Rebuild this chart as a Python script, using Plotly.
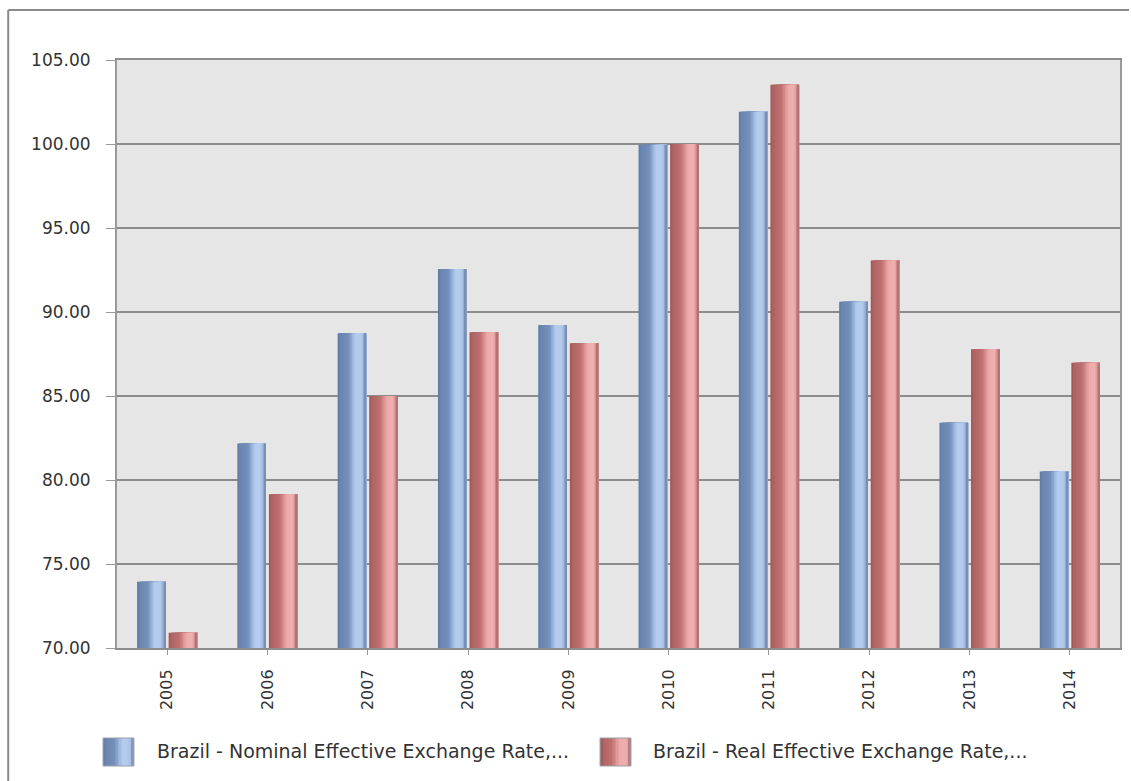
import plotly.graph_objects as go

# ---------------- data ----------------
years = [2005, 2006, 2007, 2008, 2009, 2010, 2011, 2012, 2013, 2014]
nominal = [73.95, 82.18, 88.73, 92.56, 89.23, 99.95, 101.92, 90.61, 83.41, 80.50]
real = [70.91, 79.15, 85.00, 88.79, 88.14, 100.00, 103.53, 93.06, 87.78, 86.98]
series_names = [
    "Brazil - Nominal Effective Exchange Rate,...",
    "Brazil - Real Effective Exchange Rate,...",
]
y_ticks = [70, 75, 80, 85, 90, 95, 100, 105]

# ---------------- layout geometry (pixels) ----------------
W, H = 1131, 781
PL, PR, PT, PB = 117, 1122, 60, 648  # plot area edges


def px_x(px):
    return (px - PL) / (PR - PL)


def px_y(py):
    return (PB - py) / (PB - PT)


def hex2rgb(h):
    h = h.lstrip("#")
    return tuple(int(h[i:i + 2], 16) for i in (0, 2, 4))


def interp(stops, t):
    for (t0, c0), (t1, c1) in zip(stops, stops[1:]):
        if t0 <= t <= t1:
            a = (t - t0) / (t1 - t0) if t1 > t0 else 0
            r0, g0, b0 = hex2rgb(c0)
            r1, g1, b1 = hex2rgb(c1)
            return "rgb(%d,%d,%d)" % (round(r0 + (r1 - r0) * a), round(g0 + (g1 - g0) * a), round(b0 + (b1 - b0) * a))
    return stops[-1][1]


blue_stops = [(0.0, "#5d77a2"), (0.07, "#6a84af"), (0.38, "#7590ba"), (0.52, "#9bb5de"),
              (0.62, "#b5ccee"), (0.84, "#b2caec"), (0.92, "#8fa4c9"), (1.0, "#6f84aa")]
red_stops = [(0.0, "#9a5252"), (0.07, "#ad6262"), (0.38, "#c07070"), (0.52, "#dc9292"),
             (0.62, "#eda9a9"), (0.84, "#f1b1b1"), (0.92, "#c98585"), (1.0, "#a46a6a")]

BAR_W = 0.285
offsets = [-0.3, 0.015]
N = 18

fig = go.Figure()
for name, vals, stops, off in zip(series_names, [nominal, real], [blue_stops, red_stops], offsets):
    for k in range(N):
        f = k / N
        fig.add_trace(go.Bar(
            x=years, y=vals, name=name,
            offset=off + f * BAR_W, width=BAR_W * (1 - f),
            marker=dict(color=interp(stops, (k + 0.5) / N), line=dict(width=0)),
            opacity=1, showlegend=False,
            hoverinfo="x+y+name" if k == N // 2 else "skip",
        ))

shapes = []
# outer border (top and left)
shapes.append(dict(type="line", xref="paper", yref="paper", x0=px_x(8), x1=px_x(W), y0=px_y(10), y1=px_y(10),
                   line=dict(color="#8a8a8a", width=2)))
shapes.append(dict(type="line", xref="paper", yref="paper", x0=px_x(8), x1=px_x(8), y0=px_y(10), y1=px_y(H + 2),
                   line=dict(color="#8a8a8a", width=2)))

# custom legend
legend_items = [(103, 155, blue_stops), (601, 652, red_stops)]
annotations = []
for (sx, tx, stops), name in zip(legend_items, series_names):
    sw, sy0, sy1 = 31, 738, 766
    M = 10
    for k in range(M):
        f = k / M
        shapes.append(dict(type="rect", xref="paper", yref="paper",
                           x0=px_x(sx + f * sw), x1=px_x(sx + sw), y0=px_y(sy1), y1=px_y(sy0),
                           fillcolor=interp(stops, (k + 0.5) / M), line=dict(width=0)))
    shapes.append(dict(type="rect", xref="paper", yref="paper",
                       x0=px_x(sx), x1=px_x(sx + sw), y0=px_y(sy1), y1=px_y(sy0),
                       fillcolor="rgba(0,0,0,0)", line=dict(color="#9aa0aa", width=1)))
    annotations.append(dict(x=px_x(tx), y=px_y(751), xref="paper", yref="paper", text=name,
                            showarrow=False, xanchor="left", yanchor="middle",
                            font=dict(family="DejaVu Sans", size=19, color="#333333")))

fig.update_layout(
    width=W, height=H,
    margin=dict(l=PL, r=W - PR, t=PT, b=H - PB, pad=0),
    paper_bgcolor="white",
    plot_bgcolor="#e6e6e6",
    barmode="overlay",
    showlegend=False,
    shapes=shapes,
    annotations=annotations,
    font=dict(family="DejaVu Sans", color="#333333"),
    xaxis=dict(
        range=[years[0] - 0.5, years[-1] + 0.5],
        tickvals=years, ticktext=[str(y) for y in years],
        tickangle=-90, tickfont=dict(size=16, color="#333333"),
        ticks="outside", ticklen=5, tickcolor="#999999", tickwidth=1,
        ticklabelstandoff=8,
        showgrid=False, zeroline=False,
        showline=True, linecolor="#8c8c8c", linewidth=2, mirror=True,
    ),
    yaxis=dict(
        range=[70, 105], tickvals=y_ticks, tickformat=".2f",
        tickfont=dict(size=17, color="#333333"),
        ticks="outside", ticklen=9, tickcolor="#999999", tickwidth=1,
        ticklabelstandoff=12,
        showgrid=True, gridcolor="#8c8c8c", gridwidth=2,
        zeroline=False,
        showline=True, linecolor="#999999", linewidth=2, mirror=True,
    ),
)

fig.write_html("out.html")
